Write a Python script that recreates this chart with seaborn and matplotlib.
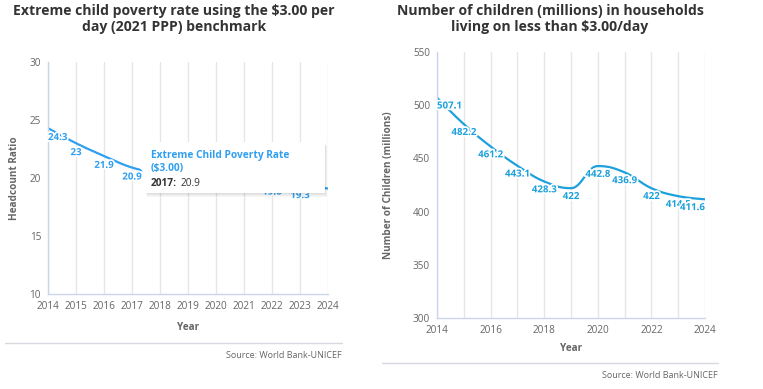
import numpy as np
import pandas as pd
import seaborn as sns
import matplotlib.pyplot as plt
import matplotlib.patheffects as pe
from matplotlib.patches import Polygon, Rectangle

# Data
years = list(range(2014, 2025))
poverty_rate = [24.3, 23.0, 21.9, 20.9, 20.4, 20.0, 20.6, 20.3, 19.6, 19.3, 19.1]
children_millions = [507.1, 482.2, 461.2, 443.1, 428.3, 422.0, 442.8, 436.9, 422.0, 414.5, 411.6]

left_title = "Extreme child poverty rate using the $3.00 per\nday (2021 PPP) benchmark"
right_title = "Number of children (millions) in households\nliving on less than $3.00/day"
source = "Source: World Bank-UNICEF"
tooltip_series = ["Extreme Child Poverty Rate", "($3.00)"]
tooltip_year = 2017


# Highcharts-like spline (smoothing 1.5), sampled as cubic beziers
def spline_points(xs, ys, smoothing=1.5, n=40):
    xs = np.asarray(xs, float)
    ys = np.asarray(ys, float)
    m = len(xs)
    left = [(x, y) for x, y in zip(xs, ys)]
    right = [(x, y) for x, y in zip(xs, ys)]
    d = smoothing + 1
    for i in range(1, m - 1):
        px, py = xs[i], ys[i]
        lx, ly = xs[i - 1], ys[i - 1]
        nx, ny = xs[i + 1], ys[i + 1]
        lcx = (smoothing * px + lx) / d
        lcy = (smoothing * py + ly) / d
        rcx = (smoothing * px + nx) / d
        rcy = (smoothing * py + ny) / d
        corr = ((rcy - lcy) * (rcx - px)) / (rcx - lcx) + py - rcy
        lcy += corr
        rcy += corr
        if lcy > ly and lcy > py:
            lcy = max(ly, py); rcy = 2 * py - lcy
        elif lcy < ly and lcy < py:
            lcy = min(ly, py); rcy = 2 * py - lcy
        if rcy > ny and rcy > py:
            rcy = max(ny, py); lcy = 2 * py - rcy
        elif rcy < ny and rcy < py:
            rcy = min(ny, py); lcy = 2 * py - rcy
        left[i] = (lcx, lcy)
        right[i] = (rcx, rcy)
    t = np.linspace(0, 1, n)
    out_x, out_y = [], []
    for i in range(1, m):
        p0 = np.array([xs[i - 1], ys[i - 1]])
        p1 = np.array(right[i - 1])
        p2 = np.array(left[i])
        p3 = np.array([xs[i], ys[i]])
        b = ((1 - t) ** 3)[:, None] * p0 + (3 * (1 - t) ** 2 * t)[:, None] * p1 \
            + (3 * (1 - t) * t ** 2)[:, None] * p2 + (t ** 3)[:, None] * p3
        out_x.extend(b[:, 0]); out_y.extend(b[:, 1])
    return pd.DataFrame({"x": out_x, "y": out_y})


sns.set_style("white")
plt.rcParams['font.family'] = ['Open Sans', 'DejaVu Sans']

axis_col = "#ccd6eb"
grid_col = "#e6e6e6"
tick_col = "#666666"
title_col = "#333333"

W, H = 763, 389
fig = plt.figure(figsize=(W / 100, H / 100), dpi=100)
ax1 = fig.add_axes([48 / W, 1 - 294 / H, 280 / W, 232 / H])
ax2 = fig.add_axes([437 / W, 1 - 318 / H, 268 / W, 266 / H])


def style_axis(ax):
    for s in ["top", "right"]:
        ax.spines[s].set_visible(False)
    for s in ["left", "bottom"]:
        ax.spines[s].set_color(axis_col)
        ax.spines[s].set_linewidth(1)
    ax.grid(axis="x", which="both", color=grid_col, linewidth=1)
    ax.grid(axis="y", visible=False)
    ax.set_axisbelow(True)
    ax.tick_params(axis="both", which="both", colors=axis_col, labelcolor=tick_col,
                   labelsize=7.2, length=4, width=1, pad=1)


def label_points(ax, xs, vals, color, dy, skip_last=False):
    n = len(xs)
    for i, (x, v) in enumerate(zip(xs, vals)):
        if skip_last and i == n - 1:
            continue
        ha = "center"
        if i == 0:
            ha = "left"
        elif i == n - 1:
            ha = "right"
        ax.annotate(f"{v:g}", (x, v), xytext=(0, -dy), textcoords="offset points", ha=ha, va="center",
                    fontsize=7, fontweight="bold", color=color,
                    path_effects=[pe.withStroke(linewidth=2.5, foreground="white")])


# Left chart
c1 = "#2f9ff0"
df1 = spline_points(years, poverty_rate)
sns.lineplot(data=df1, x="x", y="y", sort=False, estimator=None, color=c1, linewidth=1.6, ax=ax1)
label_points(ax1, years, poverty_rate, c1, 6.8, skip_last=True)
ax1.set_xlim(2014, 2024)
ax1.set_ylim(10, 30)
ax1.set_xticks(years)
ax1.set_yticks([10, 15, 20, 25, 30])
style_axis(ax1)
ax1.set_xlabel("Year", fontsize=7.2, fontweight="bold", color=tick_col)
ax1.set_ylabel("Headcount Ratio", fontsize=7.2, fontweight="bold", color=tick_col)
ax1.xaxis.set_label_coords(0.5, -(322 - 294) / 232)
ax1.yaxis.set_label_coords(-(48 - 20) / 280, 0.5)

# Right chart
c2 = "#1da1dc"
df2 = spline_points(years, children_millions)
sns.lineplot(data=df2, x="x", y="y", sort=False, estimator=None, color=c2, linewidth=1.6, ax=ax2)
label_points(ax2, years, children_millions, c2, 6.0)
ax2.set_xlim(2014, 2024)
ax2.set_ylim(300, 550)
ax2.set_xticks(years[::2])
ax2.set_xticks(years[1::2], minor=True)
ax2.set_yticks([300, 350, 400, 450, 500, 550])
style_axis(ax2)
ax2.set_xlabel("Year", fontsize=7.2, fontweight="bold", color=tick_col)
ax2.set_ylabel("Number of Children (millions)", fontsize=7.2, fontweight="bold", color=tick_col)
ax2.xaxis.set_label_coords(0.5, -(343 - 318) / 266)
ax2.yaxis.set_label_coords(-(437 - 394) / 268, 0.5)

# Titles
fig.text(174 / W, 1 - 19 / H, left_title, ha="center", va="center", fontsize=10.1,
         fontweight="bold", color=title_col, linespacing=1.2)
fig.text(550 / W, 1 - 19 / H, right_title, ha="center", va="center", fontsize=10.1,
         fontweight="bold", color=title_col, linespacing=1.2)

# Separators and sources
fig.add_artist(plt.Line2D([5 / W, 342 / W], [1 - 343 / H] * 2, color="#d8d8e0", linewidth=1))
fig.add_artist(plt.Line2D([382 / W, 718 / W], [1 - 363 / H] * 2, color="#d8d8e0", linewidth=1))
fig.text(342 / W, 1 - 356 / H, source, ha="right", va="center", fontsize=6.5, color=tick_col)
fig.text(718 / W, 1 - 376 / H, source, ha="right", va="center", fontsize=6.5, color=tick_col)

# Tooltip (hover box) on the left chart
bx0, by0, bx1, by1 = 145, 142, 325, 193
for k in range(1, 5):
    fig.add_artist(Rectangle(((bx0 + k * 0.5) / W, 1 - (by1 + k) / H), (bx1 - bx0) / W, (by1 - by0) / H,
                             facecolor="black", alpha=0.03, edgecolor="none",
                             transform=fig.transFigure, zorder=9))
fig.add_artist(Rectangle((bx0 / W, 1 - by1 / H), (bx1 - bx0) / W, (by1 - by0) / H,
                         facecolor="white", edgecolor="none", transform=fig.transFigure, zorder=10))
fig.add_artist(Polygon([(bx0 / W, 1 - 160 / H), (139 / W, 1 - 167 / H), (bx0 / W, 1 - 174 / H)],
                       closed=True, facecolor="white", edgecolor="none",
                       transform=fig.transFigure, zorder=10))
fig.text(151 / W, 1 - 155 / H, tooltip_series[0], ha="left", va="center",
         fontsize=7.3, fontweight="bold", color=c1, zorder=11)
fig.text(151 / W, 1 - 169 / H, tooltip_series[1], ha="left", va="center",
         fontsize=7.3, fontweight="bold", color=c1, zorder=11)
t_year = fig.text(151 / W, 1 - 183 / H, f"{tooltip_year}:", ha="left", va="center",
                  fontsize=7.3, fontweight="bold", color=title_col, zorder=11)
renderer = fig.canvas.get_renderer()
bb = t_year.get_window_extent(renderer=renderer)
fig.text((bb.x1 + 3) / W, 1 - 183 / H, f"{poverty_rate[years.index(tooltip_year)]:g}", ha="left",
         va="center", fontsize=7.3, color=title_col, zorder=11)

fig.savefig("out.png", dpi=100)
